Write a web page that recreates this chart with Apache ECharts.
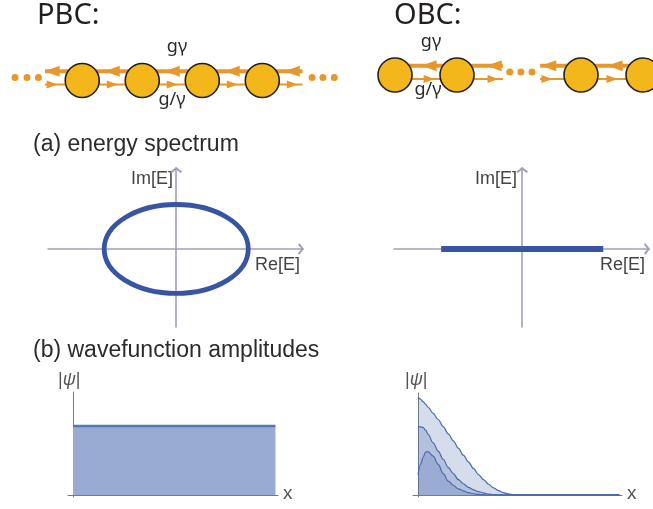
<!DOCTYPE html>
<html>
<head>
<meta charset="utf-8">
<script src="https://cdn.jsdelivr.net/npm/echarts@6/dist/echarts.min.js"></script>
<style>
  html, body { margin: 0; padding: 0; background: #fff; }
  #chart { width: 653px; height: 509px; }
</style>
</head>
<body>
<div id="chart"></div>
<script>
// ---- chain sketches (lattice units) ----
var pbcSites = [1, 2, 3, 4]
var pbcLeftHops = [0.5, 1.5, 2.5, 3.5, 4.5]   // g*gamma
var pbcRightHops = [0.5, 1.5, 2.5, 3.5, 4.5]  // g/gamma
var pbcBond = [0.38, 4.67]
var pbcDots = [-0.12, 0.08, 0.27, 4.83, 5.01, 5.2]

var obcSites = [0, 1, 3, 4]
var obcLeftHops = [0.55, 1.6, 2.48, 3.55]
var obcRightHops = [0.55, 1.58, 2.45, 3.5]
var obcBondA = [0, 1.74]
var obcBondB = [2.34, 4]
var obcDots = [1.85, 2.03, 2.21]

// ---- energy spectra ----
var pbcLoop = [0, 0, 1.0, 0.615]   // centre Re, centre Im, semi-axis Re, semi-axis Im
var obcArc = [-1.125, 1.125]       // Re[E] range, Im[E] = 0

// ---- wavefunction amplitudes ----
var pbcAmpX = [0, 40]
var pbcAmp = [0.67, 0.67]

var obcX = [0, 0.5, 1, 1.5, 2, 3, 4, 5, 6, 7, 8, 9, 10, 11, 12, 13, 14, 15, 16, 17, 18, 19, 20, 22, 25, 30, 40]
var obcAmpA = [0.96, 0.94, 0.915, 0.89, 0.86, 0.8, 0.74, 0.67, 0.6, 0.53, 0.46, 0.39, 0.325, 0.26, 0.2, 0.15, 0.105, 0.07, 0.042, 0.022, 0.01, 0.004, 0.001, 0, 0, 0, 0]
var obcAmpB = [0.67, 0.668, 0.662, 0.635, 0.595, 0.51, 0.43, 0.35, 0.27, 0.21, 0.15, 0.11, 0.075, 0.05, 0.032, 0.02, 0.009, 0.004, 0.002, 0, 0, 0, 0, 0, 0, 0, 0]
var obcAmpC = [0.2, 0.3, 0.37, 0.42, 0.425, 0.38, 0.3, 0.21, 0.135, 0.095, 0.06, 0.04, 0.022, 0.012, 0.006, 0.003, 0, 0, 0, 0, 0, 0, 0, 0, 0, 0, 0]

var orange = '#E8982B'
var siteFill = '#F3B71B'
var upperY = 0.155
var lowerY = -0.067
var dotY = 0.05

function pairs(xs, ys) {
  return xs.map(function (x, i) { return [x, ys[i]] })
}
function atY(xs, y) {
  return xs.map(function (x) { return [x, y] })
}

var chevron = 'path://M0,8 L10,0 L20,8 L17.2,10 L10,4.2 L2.8,10 Z'
var hidden = { show: false }

function chainAxes(gridIndex, min, max) {
  return {
    x: { gridIndex: gridIndex, type: 'value', min: min, max: max, show: false },
    y: { gridIndex: gridIndex, type: 'value', min: -0.5, max: 0.5, show: false }
  }
}
function specAxes(gridIndex) {
  var line = {
    onZero: true,
    lineStyle: { color: '#A59EB8', width: 1.6 },
    symbol: ['none', chevron],
    symbolSize: [12, 8],
    symbolOffset: [0, -2]
  }
  return {
    x: { gridIndex: gridIndex, type: 'value', min: -1.78, max: 1.76, axisLine: line,
      axisTick: hidden, axisLabel: hidden, splitLine: hidden },
    y: { gridIndex: gridIndex, type: 'value', min: -1.08, max: 1.12, axisLine: line,
      axisTick: hidden, axisLabel: hidden, splitLine: hidden }
  }
}
function ampAxes(gridIndex) {
  var line = { onZero: true, lineStyle: { color: '#7A7A7A', width: 1 } }
  return {
    x: { gridIndex: gridIndex, type: 'value', min: -1, max: 40.5, axisLine: line,
      axisTick: hidden, axisLabel: hidden, splitLine: hidden },
    y: { gridIndex: gridIndex, type: 'value', min: -0.02, max: 1, axisLine: line,
      axisTick: hidden, axisLabel: hidden, splitLine: hidden }
  }
}

function chainSeries(idx, sites, leftHops, rightHops, bonds, dots) {
  var list = []
  bonds.forEach(function (b) {
    list.push({ type: 'line', xAxisIndex: idx, yAxisIndex: idx, data: atY(b, upperY),
      symbol: 'none', lineStyle: { color: orange, width: 4 }, z: 2, silent: true })
    list.push({ type: 'line', xAxisIndex: idx, yAxisIndex: idx, data: atY(b, lowerY),
      symbol: 'none', lineStyle: { color: orange, width: 2 }, z: 2, silent: true })
  })
  list.push({ type: 'scatter', xAxisIndex: idx, yAxisIndex: idx, data: atY(leftHops, upperY),
    symbol: 'triangle', symbolSize: [11, 15], symbolRotate: 90,
    itemStyle: { color: orange, opacity: 1 }, z: 3, silent: true })
  list.push({ type: 'scatter', xAxisIndex: idx, yAxisIndex: idx, data: atY(rightHops, lowerY),
    symbol: 'triangle', symbolSize: [8, 11], symbolRotate: -90,
    itemStyle: { color: orange, opacity: 1 }, z: 3, silent: true })
  list.push({ type: 'scatter', xAxisIndex: idx, yAxisIndex: idx, data: atY(dots, dotY),
    symbol: 'circle', symbolSize: 7, itemStyle: { color: orange, opacity: 1 }, z: 3, silent: true })
  list.push({ type: 'scatter', xAxisIndex: idx, yAxisIndex: idx, data: atY(sites, 0),
    symbol: 'circle', symbolSize: 34,
    itemStyle: { color: siteFill, borderColor: '#231F20', borderWidth: 1.6, opacity: 1 }, z: 5, silent: true })
  return list
}

function ampSeries(idx, xs, ys, fill) {
  return {
    type: 'line', xAxisIndex: idx, yAxisIndex: idx, data: pairs(xs, ys),
    symbol: 'none', smooth: 0.35, smoothMonotone: 'x',
    lineStyle: { color: '#4A6AAE', width: 1.2 },
    areaStyle: { color: fill, opacity: 1 }, silent: true
  }
}

var axes = [
  chainAxes(0, -0.37, 10.51),
  chainAxes(1, -6.371, 4.161),
  specAxes(2),
  specAxes(3),
  ampAxes(4),
  ampAxes(5)
]

var chart = echarts.init(document.getElementById('chart'), null, { renderer: 'canvas' })

var textColor = '#2B2B2B'
var sans = '"Liberation Sans", Arial, sans-serif'
var humanist = '"Noto Sans", sans-serif'

function label(x, y, text, size, align, family, color) {
  return {
    type: 'text', x: x, y: y, silent: true,
    style: {
      text: text, fill: color || textColor, align: align, verticalAlign: 'middle',
      font: size + 'px ' + family,
      rich: { i: { fontStyle: 'italic', fontSize: size, fontFamily: family, fill: color || textColor } }
    }
  }
}

var option = {
  animation: false,
  backgroundColor: '#fff',
  grid: [
    { left: 0, right: 0, top: 50.5, height: 60 },
    { left: 0, right: 0, top: 45, height: 60 },
    { left: 48, top: 168, width: 255, height: 159 },
    { left: 394, top: 168, width: 255, height: 159 },
    { left: 68, top: 392, width: 210, height: 105 },
    { left: 413, top: 393, width: 209, height: 104 }
  ],
  xAxis: axes.map(function (a) { return a.x }),
  yAxis: axes.map(function (a) { return a.y }),
  series: [].concat(
    chainSeries(0, pbcSites, pbcLeftHops, pbcRightHops, [pbcBond], pbcDots),
    chainSeries(1, obcSites, obcLeftHops, obcRightHops, [obcBondA, obcBondB], obcDots),
    [
      {
        type: 'custom', xAxisIndex: 2, yAxisIndex: 2, data: [pbcLoop], silent: true, z: 4,
        renderItem: function (params, api) {
          var c = api.coord([api.value(0), api.value(1)])
          var s = api.size([api.value(2), api.value(3)])
          return {
            type: 'ellipse',
            shape: { cx: c[0], cy: c[1], rx: s[0], ry: s[1] },
            style: { fill: 'none', stroke: '#3A54A4', lineWidth: 4.8 }
          }
        }
      },
      {
        type: 'line', xAxisIndex: 3, yAxisIndex: 3, data: atY(obcArc, 0), symbol: 'none',
        lineStyle: { color: '#3A54A4', width: 6, cap: 'butt' }, z: 4, silent: true
      },
      {
        type: 'line', xAxisIndex: 4, yAxisIndex: 4, data: pairs(pbcAmpX, pbcAmp), symbol: 'none',
        lineStyle: { color: '#5679B5', width: 2.5 },
        areaStyle: { color: '#99ABD3', opacity: 1 }, silent: true
      },
      ampSeries(5, obcX, obcAmpA, 'rgba(74,103,173,0.23)'),
      ampSeries(5, obcX, obcAmpB, 'rgba(74,103,173,0.23)'),
      ampSeries(5, obcX, obcAmpC, 'rgba(74,103,173,0.23)')
    ]
  ),
  graphic: [
    label(37, 16, 'PBC:', 29, 'left', humanist, '#231F20'),
    label(394, 16, 'OBC:', 29, 'left', humanist, '#231F20'),
    label(177, 46.5, 'gγ', 18, 'center', humanist),
    label(172, 100, 'g/γ', 18, 'center', humanist),
    label(431, 41.5, 'gγ', 18, 'center', humanist),
    label(428, 90, 'g/γ', 18, 'center', humanist),
    label(33, 145, '(a) energy spectrum', 23, 'left', sans),
    label(33, 351, '(b) wavefunction amplitudes', 23, 'left', sans),
    label(173, 179, 'Im[E]', 18, 'right', sans, '#444'),
    label(255, 265, 'Re[E]', 18, 'left', sans, '#444'),
    label(517, 179, 'Im[E]', 18, 'right', sans, '#444'),
    label(600, 265, 'Re[E]', 18, 'left', sans, '#444'),
    label(58, 380, '|{i|ψ}|', 18, 'left', sans, '#555'),
    label(405, 380, '|{i|ψ}|', 18, 'left', sans, '#555'),
    label(283, 494, 'x', 19, 'left', sans, '#555'),
    label(627, 494, 'x', 19, 'left', sans, '#555')
  ]
}

chart.setOption(option)
</script>
</body>
</html>
